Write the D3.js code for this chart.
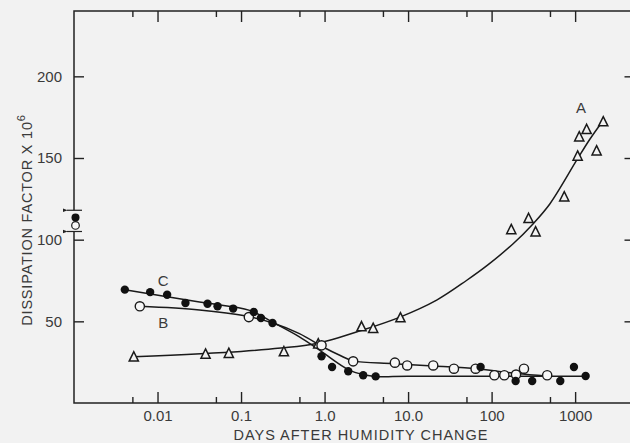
<!DOCTYPE html>
<html>
<head>
<meta charset="utf-8">
<script src="https://cdn.jsdelivr.net/npm/d3@7"></script>
<style>
    html, body { margin: 0; padding: 0; background: #f2f2f2; overflow: hidden; }
    text { font-family: "Liberation Sans", Arial, sans-serif; fill: #3a3a3a; }
</style>
</head>
<body>
<script>
// measured points, days after humidity change vs dissipation factor x 10^6
var seriesA = [
    [0.0052, 28], [0.0376, 29.8], [0.0714, 30.2], [0.326, 31.2], [0.84, 36],
    [2.77, 46.5], [3.82, 45.5], [8.1, 52], [172, 106], [277, 112.8], [336, 104.6],
    [741, 126], [1072, 151], [1120, 162.8], [1373, 167.3], [1808, 154.2], [2172, 172]
];
var seriesB = [
    [0.00614, 59.2], [0.124, 52.6], [0.92, 35.3], [2.2, 25.5], [6.95, 24.7],
    [9.75, 23], [20, 23], [35.4, 21], [64.3, 21], [108, 17], [142, 17],
    [196, 17.4], [244, 21], [463, 17]
];
var seriesC = [
    [0.00406, 69.4], [0.00816, 67.9], [0.01304, 66.3], [0.0216, 61.2], [0.0397, 60.8],
    [0.0523, 59.2], [0.0805, 57.8], [0.142, 55.7], [0.173, 52], [0.238, 49],
    [0.92, 28.6], [1.23, 22], [1.92, 19.4], [2.9, 17], [4.09, 16.3],
    [73.8, 22], [194, 13.5], [306, 13.5], [664, 13.5], [968, 22], [1336, 16.5]
];

// hand drawn smooth curves through each set
var curveA = [
    [0.0052, 28.3], [0.1, 31.6], [0.3, 33.6], [0.8, 36.4], [2.8, 44.5], [8, 52.6],
    [22, 63], [50, 75], [91, 84.7], [181, 97.5], [315, 109.8], [500, 122],
    [1040, 148.5], [1500, 161.5], [2170, 173]
];
var curveB = [
    [0.00614, 59.2], [0.0318, 57], [0.116, 53.2], [0.24, 49], [0.5, 42.5], [0.96, 34.3],
    [1.52, 29.2], [2.2, 25.8], [6.64, 24.1], [20, 22.6], [66, 21], [200, 18], [456, 16.5]
];
var curveC = [
    [0.00406, 69.4], [0.0318, 61.8], [0.127, 56.7], [0.242, 49.3], [0.5, 40.5],
    [0.88, 32.2], [2.01, 20], [3.82, 16.4], [10, 16.4], [1336, 16.4]
];

// values before the humidity change, plotted on the axis
var initialB = 108.7,
    initialC = 113.5,
    breakTop = 118,
    breakBottom = 105;

var majorTicks = [0.01, 0.1, 1, 10, 100, 1000],
    majorLabels = ['0.01', '0.1', '1.0', '10.0', '100', '1000'],
    minorTicks = [0.005, 0.05, 0.5, 5, 50, 500],
    yTicks = [50, 100, 150, 200];

var curveLabels = [
    ['A', 1180, 181],
    ['B', 0.0117, 49],
    ['C', 0.0117, 75]
];

var W = 630, H = 443;

var svg = d3.select('body').append('svg')
    .attr('width', W)
    .attr('height', H);

var x = d3.scaleLog().domain([0.001, 5000]).range([74, 633.5]),
    y = d3.scaleLinear().domain([0, 240]).range([403, 11]);

var tickFmt = function(d) { return majorLabels[majorTicks.indexOf(d)]; };

function styleAxis(g) {
    g.select('.domain').remove();
    g.selectAll('line').attr('stroke', '#222').attr('stroke-width', 1.4);
    g.selectAll('text').attr('font-size', 15).attr('fill', '#3a3a3a');
}

svg.append('g')
    .attr('transform', 'translate(0,' + y(0) + ')')
    .call(d3.axisBottom(x).tickValues(majorTicks).tickSize(-11).tickPadding(7).tickFormat(tickFmt))
    .call(styleAxis);

svg.append('g')
    .attr('transform', 'translate(0,' + y(0) + ')')
    .call(d3.axisBottom(x).tickValues(minorTicks).tickSize(-6).tickFormat(''))
    .call(styleAxis);

svg.append('g')
    .attr('transform', 'translate(0,' + y(240) + ')')
    .call(d3.axisTop(x).tickValues(majorTicks).tickSize(-11).tickFormat(''))
    .call(styleAxis);

svg.append('g')
    .attr('transform', 'translate(0,' + y(240) + ')')
    .call(d3.axisTop(x).tickValues(minorTicks).tickSize(-6).tickFormat(''))
    .call(styleAxis);

svg.append('g')
    .attr('transform', 'translate(' + x(0.001) + ',0)')
    .call(d3.axisLeft(y).tickValues(yTicks).tickSize(-10).tickPadding(12))
    .call(styleAxis);

svg.append('g')
    .attr('transform', 'translate(' + x(5000) + ',0)')
    .call(d3.axisRight(y).tickValues(yTicks).tickSize(-9).tickFormat(''))
    .call(styleAxis);

// frame, left side broken around the initial values
var frame = svg.append('g')
    .attr('fill', 'none')
    .attr('stroke', '#222')
    .attr('stroke-width', 1.5);

frame.append('path')
    .attr('d', 'M' + [x(0.001), y(breakTop)] + 'L' + [x(0.001), y(240)] + 'L' + [x(5000), y(240)]);
frame.append('path')
    .attr('d', 'M' + [x(0.001), y(breakBottom)] + 'L' + [x(0.001), y(0)] + 'L' + [x(5000), y(0)]);

svg.append('defs').append('marker')
    .attr('id', 'head')
    .attr('viewBox', '0 0 10 10')
    .attr('refX', 1)
    .attr('refY', 5)
    .attr('markerWidth', 4)
    .attr('markerHeight', 4)
    .attr('orient', 'auto-start-reverse')
    .append('path')
    .attr('d', 'M0,5L10,1L10,9Z')
    .attr('fill', '#222');

[breakTop, breakBottom].forEach(function(v) {
    svg.append('line')
        .attr('x1', x(0.001) + 8)
        .attr('x2', x(0.001) - 7)
        .attr('y1', y(v))
        .attr('y2', y(v))
        .attr('stroke', '#222')
        .attr('stroke-width', 1.2)
        .attr('marker-end', 'url(#head)');
});

var line = d3.line()
    .x(function(d) { return x(d[0]); })
    .y(function(d) { return y(d[1]); })
    .curve(d3.curveCatmullRom.alpha(0.5));

[curveA, curveB, curveC].forEach(function(c) {
    svg.append('path')
        .attr('d', line(c))
        .attr('fill', 'none')
        .attr('stroke', '#1a1a1a')
        .attr('stroke-width', 1.5);
});

svg.append('g').selectAll('path')
    .data(seriesA)
    .enter().append('path')
    .attr('transform', function(d) { return 'translate(' + [x(d[0]), y(d[1])] + ')'; })
    .attr('d', 'M0,-5.5L4.6,3.8L-4.6,3.8Z')
    .attr('fill', '#f2f2f2')
    .attr('stroke', '#1a1a1a')
    .attr('stroke-width', 1.5);

svg.append('g').selectAll('circle')
    .data(seriesB)
    .enter().append('circle')
    .attr('cx', function(d) { return x(d[0]); })
    .attr('cy', function(d) { return y(d[1]); })
    .attr('r', 4.6)
    .attr('fill', '#f7f7f7')
    .attr('stroke', '#1a1a1a')
    .attr('stroke-width', 1.4);

svg.append('g').selectAll('circle')
    .data(seriesC)
    .enter().append('circle')
    .attr('cx', function(d) { return x(d[0]); })
    .attr('cy', function(d) { return y(d[1]); })
    .attr('r', 4.2)
    .attr('fill', '#111');

svg.append('circle')
    .attr('cx', x(0.001) + 1.5)
    .attr('cy', y(initialC))
    .attr('r', 4)
    .attr('fill', '#111');

svg.append('circle')
    .attr('cx', x(0.001) + 1.5)
    .attr('cy', y(initialB))
    .attr('r', 3.8)
    .attr('fill', '#f7f7f7')
    .attr('stroke', '#1a1a1a')
    .attr('stroke-width', 1.2);

curveLabels.forEach(function(d) {
    svg.append('text')
        .attr('x', x(d[1]))
        .attr('y', y(d[2]))
        .attr('text-anchor', 'middle')
        .attr('dy', '0.35em')
        .attr('font-size', 15)
        .text(d[0]);
});

svg.append('text')
    .attr('x', 361)
    .attr('y', 440)
    .attr('text-anchor', 'middle')
    .attr('font-size', 14.5)
    .attr('letter-spacing', 1)
    .text('DAYS AFTER HUMIDITY CHANGE');

var ylab = svg.append('text')
    .attr('transform', 'translate(32,220) rotate(-90)')
    .attr('text-anchor', 'middle')
    .attr('font-size', 14.5)
    .attr('letter-spacing', 0.8);
ylab.append('tspan').text('DISSIPATION FACTOR X 10');
ylab.append('tspan').attr('dy', -7).attr('font-size', 11).text('6');
</script>
</body>
</html>
